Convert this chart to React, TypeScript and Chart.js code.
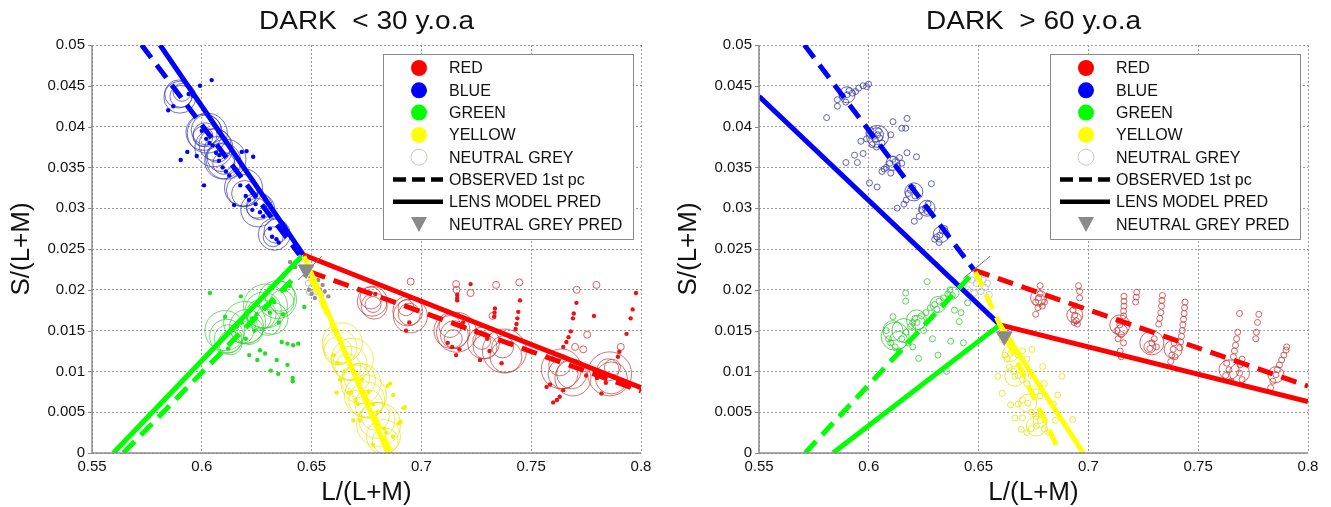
import React, { useEffect, useRef } from 'react';
import { Chart, registerables } from 'chart.js';
Chart.register(...registerables);

type P = [number, number];

const FONT = 'Liberation Sans, Arial, sans-serif';

const xTickValues = [0.55, 0.6, 0.65, 0.7, 0.75, 0.8];
const xTickLabels = ['0.55', '0.6', '0.65', '0.7', '0.75', '0.8'];
const yTickValues = [0, 0.005, 0.01, 0.015, 0.02, 0.025, 0.03, 0.035, 0.04, 0.045, 0.05];
const yTickLabels = ['0', '0.005', '0.01', '0.015', '0.02', '0.025', '0.03', '0.035', '0.04', '0.045', '0.05'];

const panelTitles = ['DARK  < 30 y.o.a', 'DARK  > 60 y.o.a'];
const xAxisTitle = 'L/(L+M)';
const yAxisTitle = 'S/(L+M)';
const legendLabels = ['RED', 'BLUE', 'GREEN', 'YELLOW', 'NEUTRAL GREY', 'OBSERVED 1st pc', 'LENS MODEL PRED', 'NEUTRAL GREY PRED'];

// ---------------- YOUNG (< 30) ----------------
const youngBlueObs: P[] = [[0.5726, 0.05], [0.6445, 0.0243]];
const youngBlueLens: P[] = [[0.581, 0.05], [0.6462, 0.0243]];
const youngRedObs: P[] = [[0.6493, 0.0222], [0.8, 0.0076]];
const youngRedLens: P[] = [[0.6462, 0.0243], [0.8, 0.008]];
const youngGreenObs: P[] = [[0.5643, 0], [0.6425, 0.0216]];
const youngGreenLens: P[] = [[0.5597, 0], [0.6455, 0.0241]];
const youngYellowObs: P[] = [[0.6495, 0.0215], [0.6862, 0]];
const youngYellowLens: P[] = [[0.6465, 0.0241], [0.6848, 0]];
const youngGreyPred: P[] = [[0.6475, 0.0225]];
const youngGreyCross: P[] = [[0.6439, 0.0212], [0.6546, 0.0241]];

const youngBlueRings: P[] = [
  [0.5895, 0.044], [0.5905, 0.0437], [0.591, 0.0442], [0.59, 0.0436],
  [0.601, 0.0393], [0.602, 0.0396], [0.6015, 0.039], [0.6025, 0.0392], [0.6005, 0.0388],
  [0.606, 0.0378], [0.607, 0.0372], [0.6055, 0.0374],
  [0.6095, 0.0358], [0.6088, 0.0362], [0.61, 0.0355], [0.611, 0.036],
  [0.6185, 0.0322], [0.6195, 0.0318], [0.619, 0.0325],
  [0.6255, 0.0298], [0.6262, 0.0302], [0.625, 0.03],
  [0.633, 0.0268], [0.6338, 0.0272], [0.6325, 0.0265],
];
const youngBlueRingSizes = [14, 11, 9, 16, 18, 15, 12, 20, 10, 16, 13, 19, 18, 14, 11, 20, 16, 13, 19, 17, 13, 10, 16, 12, 10];
const youngBlueDots: P[] = [
  [0.6045, 0.0457], [0.5992, 0.045], [0.5847, 0.042], [0.587, 0.0425], [0.5904, 0.0359], [0.5934, 0.0369],
  [0.5977, 0.0364], [0.601, 0.0328], [0.6182, 0.0369], [0.6204, 0.037], [0.6234, 0.0363], [0.6147, 0.0304],
  [0.594, 0.044], [0.596, 0.0438], [0.602, 0.0385], [0.6035, 0.038], [0.605, 0.0377], [0.608, 0.0365],
  [0.6095, 0.035], [0.611, 0.0345], [0.6125, 0.034], [0.62, 0.0315], [0.6215, 0.031], [0.623, 0.0298],
  [0.6265, 0.0295], [0.628, 0.029], [0.632, 0.0265], [0.634, 0.0262], [0.635, 0.0258], [0.6, 0.0395],
  [0.6065, 0.0368], [0.6078, 0.0358], [0.6175, 0.0328], [0.6245, 0.0305], [0.631, 0.0275],
];

const youngGreenRings: P[] = [
  [0.6113, 0.0143], [0.612, 0.014], [0.6105, 0.015], [0.613, 0.0135],
  [0.6204, 0.0155], [0.6195, 0.016], [0.6215, 0.015], [0.6185, 0.0148],
  [0.628, 0.0175], [0.627, 0.017], [0.629, 0.018], [0.626, 0.0165],
  [0.6356, 0.0192], [0.6345, 0.0188], [0.6365, 0.0185],
  [0.632, 0.0165], [0.63, 0.016],
];
const youngGreenRingSizes = [17, 14, 20, 12, 17, 21, 14, 11, 18, 15, 22, 12, 15, 19, 12, 16, 13];
const youngGreenDots: P[] = [
  [0.6037, 0.0196], [0.6178, 0.0192], [0.6106, 0.0167], [0.6265, 0.0126], [0.6288, 0.0122], [0.6253, 0.0114],
  [0.6341, 0.0114], [0.639, 0.0108], [0.6314, 0.0101], [0.6348, 0.0097], [0.6414, 0.0092], [0.6414, 0.0088],
  [0.6364, 0.0136], [0.639, 0.0134], [0.6416, 0.0132], [0.6439, 0.0134], [0.6467, 0.0179], [0.6216, 0.012],
  [0.614, 0.015], [0.616, 0.0155], [0.618, 0.016], [0.623, 0.0165], [0.625, 0.017], [0.63, 0.018],
  [0.633, 0.0185], [0.635, 0.016], [0.637, 0.017], [0.638, 0.02], [0.64, 0.0205], [0.608, 0.0135],
  [0.612, 0.0128], [0.62, 0.014], [0.624, 0.015], [0.631, 0.0172],
];

const youngYellowRings: P[] = [
  [0.6629, 0.013], [0.662, 0.0125], [0.664, 0.0135],
  [0.6675, 0.011], [0.6665, 0.0105], [0.6685, 0.0115],
  [0.6713, 0.0089], [0.6725, 0.0085], [0.6705, 0.0092],
  [0.6751, 0.0065], [0.676, 0.006], [0.6745, 0.007],
  [0.6797, 0.004], [0.6805, 0.0035], [0.679, 0.0045],
  [0.6827, 0.002], [0.6835, 0.0015],
];
const youngYellowRingSizes = [17, 14, 20, 17, 13, 21, 17, 20, 13, 18, 14, 21, 18, 22, 14, 17, 13];
const youngYellowDots: P[] = [
  [0.6614, 0.0074], [0.6667, 0.0074], [0.668, 0.0074], [0.6872, 0.0071], [0.6857, 0.0085], [0.6845, 0.0082],
  [0.6918, 0.0055], [0.6925, 0.0056], [0.669, 0.004], [0.672, 0.004], [0.6895, 0.0036], [0.6905, 0.0038],
  [0.66, 0.012], [0.662, 0.011], [0.665, 0.01], [0.67, 0.0095], [0.673, 0.009], [0.676, 0.0075],
  [0.678, 0.006], [0.68, 0.005], [0.683, 0.003], [0.684, 0.0025], [0.67, 0.0065], [0.671, 0.006],
  [0.663, 0.009], [0.687, 0.002], [0.678, 0.001],
];

const youngGreyDots: P[] = [
  [0.6402, 0.0234], [0.6425, 0.0228], [0.6508, 0.021], [0.6538, 0.02], [0.6576, 0.0192], [0.6545, 0.0193],
  [0.6488, 0.02], [0.6495, 0.0215], [0.652, 0.0205], [0.653, 0.0212], [0.656, 0.0198], [0.65, 0.0195],
  [0.647, 0.0218], [0.6515, 0.019], [0.655, 0.0206],
];
const youngGreyOpen: P[] = [[0.6485, 0.0208], [0.65, 0.0203], [0.652, 0.0198], [0.6505, 0.0212], [0.649, 0.0197]];

const youngRedRings: P[] = [
  [0.6776, 0.0186], [0.677, 0.019], [0.678, 0.0182], [0.6785, 0.018],
  [0.6938, 0.0174], [0.6945, 0.017], [0.693, 0.0178], [0.695, 0.0168],
  [0.7139, 0.015], [0.715, 0.0145], [0.713, 0.0155], [0.716, 0.0148], [0.7145, 0.014],
  [0.7283, 0.0135], [0.729, 0.013], [0.7275, 0.0138],
  [0.7378, 0.0125], [0.7385, 0.0118], [0.737, 0.013],
  [0.7637, 0.0103], [0.7645, 0.0097], [0.763, 0.0108], [0.7684, 0.0097], [0.769, 0.0092],
  [0.7857, 0.0097], [0.7865, 0.0092], [0.785, 0.0102], [0.787, 0.0105],
];
const youngRedRingSizes = [15, 11, 8, 13, 15, 11, 8, 17, 18, 14, 11, 20, 9, 16, 12, 9, 22, 16, 11, 20, 15, 11, 15, 18, 22, 16, 11, 8];
const youngRedDots: P[] = [
  [0.7163, 0.0194], [0.7163, 0.019], [0.7163, 0.0187], [0.7224, 0.0207], [0.7449, 0.0187], [0.7441, 0.0173],
  [0.7437, 0.0165], [0.7433, 0.0158], [0.7429, 0.0152], [0.7335, 0.0177], [0.7333, 0.0172], [0.7331, 0.0167],
  [0.7706, 0.0184], [0.7694, 0.0171], [0.769, 0.0165], [0.768, 0.0149], [0.767, 0.0142], [0.766, 0.0136],
  [0.7646, 0.013], [0.763, 0.0069], [0.7617, 0.0065], [0.76, 0.0062], [0.7786, 0.0168], [0.7977, 0.0196],
  [0.7962, 0.0176], [0.7953, 0.0165], [0.7934, 0.0146], [0.7901, 0.0124], [0.7895, 0.0118], [0.782, 0.0073],
  [0.757, 0.0081], [0.7586, 0.0084], [0.7158, 0.012], [0.7173, 0.0127], [0.7267, 0.0114], [0.7365, 0.011],
  [0.7646, 0.0077], [0.6775, 0.021], [0.679, 0.0195], [0.695, 0.019], [0.6945, 0.016], [0.693, 0.015],
  [0.718, 0.0155], [0.719, 0.016], [0.73, 0.014], [0.731, 0.0125], [0.725, 0.015], [0.775, 0.0095],
  [0.78, 0.0092], [0.784, 0.0086], [0.712, 0.0135], [0.714, 0.013],
];
const youngRedOpen: P[] = [
  [0.6951, 0.021], [0.7158, 0.0207], [0.7224, 0.0196], [0.734, 0.0206], [0.7446, 0.0209], [0.7707, 0.02],
  [0.7797, 0.0206], [0.7755, 0.0145], [0.7908, 0.013], [0.7737, 0.0127], [0.7324, 0.0168], [0.716, 0.02],
  [0.77, 0.013],
];

// ---------------- OLD (> 60) ----------------
const oldBlueObs: P[] = [[0.5707, 0.05], [0.648, 0.0224]];
const oldBlueLens: P[] = [[0.55, 0.0437], [0.6597, 0.0157]];
const oldRedObs: P[] = [[0.648, 0.0224], [0.8, 0.0082]];
const oldRedLens: P[] = [[0.6597, 0.0157], [0.8, 0.0063]];
const oldGreenObs: P[] = [[0.571, 0], [0.648, 0.0222]];
const oldGreenLens: P[] = [[0.5837, 0], [0.6597, 0.0157]];
const oldYellowObs: P[] = [[0.6485, 0.0222], [0.687, 0]];
const oldYellowLens: P[] = [[0.6597, 0.0157], [0.6977, 0]];
const oldGreyPred: P[] = [[0.6617, 0.0143]];
const oldGreyCross: P[] = [[0.643, 0.0214], [0.6552, 0.0241]];

const oldBluePoints: P[] = [
  [0.5901, 0.0439], [0.5857, 0.0433], [0.588, 0.0437], [0.5925, 0.0441], [0.5954, 0.0447], [0.5974, 0.045],
  [0.5999, 0.0452], [0.599, 0.0449], [0.5808, 0.0411], [0.5857, 0.0425], [0.5895, 0.043], [0.591, 0.0444],
  [0.594, 0.0443],
  [0.5964, 0.0382], [0.599, 0.0385], [0.6, 0.0392], [0.601, 0.0395], [0.6022, 0.0388], [0.603, 0.0384],
  [0.604, 0.039], [0.605, 0.0386], [0.606, 0.038], [0.61, 0.039], [0.611, 0.0406], [0.6174, 0.041],
  [0.615, 0.0398], [0.6168, 0.0398], [0.6015, 0.0378], [0.6035, 0.0375], [0.6045, 0.0395],
  [0.608, 0.035], [0.6095, 0.0355], [0.611, 0.036], [0.612, 0.0357], [0.613, 0.0352], [0.614, 0.0362],
  [0.606, 0.0345], [0.607, 0.0348], [0.6217, 0.0363], [0.6174, 0.0368], [0.615, 0.0355], [0.61, 0.0343],
  [0.5896, 0.0356], [0.5948, 0.0356], [0.5935, 0.0365], [0.5974, 0.0367], [0.6003, 0.0331], [0.6038, 0.0326],
  [0.618, 0.0318], [0.619, 0.0322], [0.62, 0.0325], [0.621, 0.0315], [0.617, 0.031], [0.6129, 0.03],
  [0.6285, 0.033], [0.616, 0.0305],
  [0.624, 0.0298], [0.6256, 0.03], [0.6265, 0.0296], [0.627, 0.0305], [0.6207, 0.0284], [0.623, 0.029],
  [0.63, 0.0262], [0.631, 0.0265], [0.6324, 0.0267], [0.6335, 0.0272], [0.6345, 0.0275], [0.632, 0.0258],
];
const oldBlueRings: P[] = [[0.5901, 0.0439], [0.604, 0.0388], [0.6035, 0.039], [0.611, 0.0355], [0.6205, 0.032], [0.6265, 0.03], [0.633, 0.0268]];
const oldBlueRingSizes = [8, 11, 7, 7, 9, 8, 8];

const oldGreenPoints: P[] = [
  [0.6266, 0.021], [0.6168, 0.0196], [0.6168, 0.0186], [0.611, 0.0167], [0.6227, 0.0116], [0.6315, 0.012],
  [0.6354, 0.01], [0.6373, 0.0137], [0.6431, 0.0135], [0.6412, 0.0161], [0.645, 0.0184], [0.639, 0.0175],
  [0.642, 0.0172], [0.608, 0.015], [0.609, 0.014], [0.61, 0.0135], [0.612, 0.013], [0.614, 0.0125],
  [0.615, 0.014], [0.617, 0.0148], [0.619, 0.0155], [0.62, 0.016], [0.621, 0.0165], [0.622, 0.016],
  [0.624, 0.0168], [0.626, 0.0172], [0.628, 0.0178], [0.63, 0.0182], [0.631, 0.0176], [0.632, 0.0186],
  [0.634, 0.019], [0.636, 0.0195], [0.637, 0.02], [0.638, 0.0193], [0.62, 0.013], [0.618, 0.0135],
  [0.625, 0.015], [0.629, 0.014],
];
const oldGreenRings: P[] = [[0.612, 0.0143], [0.611, 0.015], [0.6135, 0.0138], [0.6217, 0.0163], [0.6225, 0.016], [0.6315, 0.0182], [0.6383, 0.0196], [0.616, 0.015]];
const oldGreenRingSizes = [14, 10, 9, 10, 7, 8, 6, 12];

const oldYellowPoints: P[] = [
  [0.6607, 0.0139], [0.6646, 0.0122], [0.6665, 0.0094], [0.6724, 0.0061], [0.6763, 0.0033], [0.6587, 0.0094],
  [0.6743, 0.0127], [0.6792, 0.0106], [0.6879, 0.0094], [0.686, 0.0071], [0.6928, 0.0041], [0.6694, 0.0029],
  [0.67, 0.0043], [0.68, 0.0085], [0.6646, 0.0059], [0.6665, 0.0043], [0.6607, 0.0073], [0.662, 0.012],
  [0.663, 0.0115], [0.666, 0.0125], [0.668, 0.012], [0.67, 0.0125], [0.672, 0.0115], [0.664, 0.0105],
  [0.666, 0.01], [0.668, 0.0095], [0.67, 0.009], [0.672, 0.0085], [0.674, 0.0095], [0.676, 0.0075],
  [0.678, 0.007], [0.67, 0.0065], [0.668, 0.006], [0.674, 0.005], [0.676, 0.0045], [0.678, 0.004],
  [0.68, 0.003], [0.682, 0.0025], [0.672, 0.0025], [0.674, 0.003], [0.684, 0.006], [0.685, 0.004],
];
const oldYellowRings: P[] = [[0.6646, 0.0122], [0.6665, 0.0094], [0.6724, 0.0061], [0.6763, 0.0033], [0.678, 0.004]];
const oldYellowRingSizes = [8, 10, 9, 10, 7];

const oldGreyPoints: P[] = [
  [0.649, 0.0208], [0.645, 0.02], [0.653, 0.0203], [0.652, 0.0212], [0.6548, 0.0194], [0.648, 0.0196],
  [0.65, 0.0215], [0.651, 0.0198], [0.647, 0.0212], [0.654, 0.0208],
];

const oldRedPoints: P[] = [
  [0.6773, 0.019], [0.676, 0.0185], [0.678, 0.0195], [0.679, 0.018], [0.677, 0.0178], [0.678, 0.0205],
  [0.676, 0.017], [0.68, 0.0185],
  [0.6938, 0.0169], [0.693, 0.0175], [0.6945, 0.0162], [0.695, 0.0158], [0.694, 0.018], [0.696, 0.019],
  [0.696, 0.0198], [0.6955, 0.0205], [0.6935, 0.016],
  [0.7162, 0.0192], [0.7162, 0.0186], [0.7162, 0.018], [0.716, 0.0174], [0.716, 0.0168],
  [0.722, 0.0197], [0.7218, 0.0191], [0.7215, 0.0185],
  [0.7143, 0.0157], [0.713, 0.015], [0.715, 0.0145], [0.7135, 0.014], [0.716, 0.0135], [0.7145, 0.0125],
  [0.715, 0.0118], [0.714, 0.0162],
  [0.7337, 0.0193], [0.7335, 0.0187], [0.7333, 0.018], [0.733, 0.0172], [0.7325, 0.0165], [0.732, 0.0158],
  [0.7289, 0.0135], [0.728, 0.0128], [0.73, 0.014], [0.731, 0.013],
  [0.7386, 0.0127], [0.738, 0.012], [0.7375, 0.0112], [0.739, 0.0135], [0.7395, 0.0118],
  [0.744, 0.0185], [0.7438, 0.0178], [0.7436, 0.0171], [0.7433, 0.0164], [0.743, 0.0157], [0.7427, 0.015],
  [0.7424, 0.0143], [0.742, 0.0136], [0.7416, 0.0129],
  [0.764, 0.0102], [0.7625, 0.0095], [0.763, 0.011], [0.765, 0.0088], [0.766, 0.0118], [0.7665, 0.0125],
  [0.767, 0.0132], [0.7675, 0.014], [0.768, 0.0148], [0.7688, 0.0098], [0.77, 0.009], [0.769, 0.0108],
  [0.77, 0.0115], [0.7688, 0.0171],
  [0.7776, 0.017], [0.777, 0.016], [0.7765, 0.0148], [0.7762, 0.014],
  [0.7854, 0.0096], [0.784, 0.0088], [0.783, 0.008], [0.786, 0.0102], [0.787, 0.0108], [0.788, 0.0114],
  [0.789, 0.012], [0.79, 0.0126], [0.7903, 0.013],
];
const oldRedRings: P[] = [
  [0.6773, 0.019], [0.678, 0.0188], [0.6938, 0.0169], [0.6945, 0.0165], [0.7143, 0.0157], [0.715, 0.015],
  [0.7289, 0.0135], [0.728, 0.013], [0.7386, 0.0127], [0.764, 0.0102], [0.7688, 0.0098], [0.7854, 0.0096],
];
const oldRedRingSizes = [8, 5, 8, 5, 10, 6, 12, 6, 9, 10, 10, 8];

// ---------------- helpers ----------------
const RED = '#ff0000', BLUE = '#0000ff', GREEN = '#00ff00', YELLOW = '#ffff00';

const pts = (a: P[]) => a.map(([x, y]) => ({ x, y }));

function lineDs(d: P[], color: string, dashed: boolean, width = 5) {
  return {
    data: pts(d), showLine: true, borderColor: color, borderWidth: width,
    borderDash: dashed ? [16, 9] : [], pointRadius: 0, fill: false, tension: 0, order: 1,
  };
}
function dotDs(d: P[], color: string, r: number) {
  return {
    data: pts(d), showLine: false, pointRadius: r, pointBackgroundColor: color,
    pointBorderColor: color, pointBorderWidth: 0, order: 3,
  };
}
function openDs(d: P[], color: string, r: number | number[], lw = 0.8) {
  return {
    data: pts(d), showLine: false, pointRadius: r, pointBackgroundColor: 'rgba(0,0,0,0)',
    pointBorderColor: color, pointBorderWidth: lw, order: 4,
  };
}
function triDs(d: P[]) {
  return {
    data: pts(d), showLine: false, pointStyle: 'triangle', pointRotation: 180, pointRadius: 9,
    pointBackgroundColor: '#8a8a8a', pointBorderColor: '#8a8a8a', pointBorderWidth: 1, order: 0,
  };
}

const youngDatasets = [
  triDs(youngGreyPred),
  lineDs(youngGreyCross, '#777777', false, 1),
  lineDs(youngYellowLens, YELLOW, false), lineDs(youngYellowObs, YELLOW, true),
  lineDs(youngRedLens, RED, false), lineDs(youngRedObs, RED, true),
  lineDs(youngGreenLens, GREEN, false), lineDs(youngGreenObs, GREEN, true),
  lineDs(youngBlueLens, BLUE, false), lineDs(youngBlueObs, BLUE, true),
  dotDs(youngBlueDots, BLUE, 2.2), dotDs(youngGreenDots, '#22dd22', 2.2), dotDs(youngYellowDots, '#f2f200', 2.2),
  dotDs(youngRedDots, '#ee1111', 2.2), dotDs(youngGreyDots, '#909090', 2.2),
  openDs(youngGreyOpen, '#b0b0b0', 3), openDs(youngRedOpen, '#dd3333', 3.5),
  openDs(youngBlueRings, '#3333b0', youngBlueRingSizes, 0.7),
  openDs(youngGreenRings, '#33cc33', youngGreenRingSizes, 0.7),
  openDs(youngYellowRings, '#e8e800', youngYellowRingSizes, 0.7),
  openDs(youngRedRings, '#c03a3a', youngRedRingSizes, 0.7),
];

const oldDatasets = [
  triDs(oldGreyPred),
  lineDs(oldGreyCross, '#777777', false, 1),
  lineDs(oldYellowLens, YELLOW, false), lineDs(oldYellowObs, YELLOW, true),
  lineDs(oldRedLens, RED, false), lineDs(oldRedObs, RED, true),
  lineDs(oldGreenLens, GREEN, false), lineDs(oldGreenObs, GREEN, true),
  lineDs(oldBlueLens, BLUE, false), lineDs(oldBlueObs, BLUE, true),
  openDs(oldBluePoints, '#3a3aa8', 3), openDs(oldGreenPoints, '#33cc33', 3),
  openDs(oldYellowPoints, '#e6e600', 3), openDs(oldRedPoints, '#cc3b3b', 3), openDs(oldGreyPoints, '#bdbdbd', 3.2),
  openDs(oldBlueRings, '#3a3aa8', oldBlueRingSizes, 0.8),
  openDs(oldGreenRings, '#33cc33', oldGreenRingSizes, 0.8),
  openDs(oldYellowRings, '#e6e600', oldYellowRingSizes, 0.8),
  openDs(oldRedRings, '#cc3b3b', oldRedRingSizes, 0.8),
];

function makeOverlay(title: string) {
  return {
    id: 'overlay',
    afterDraw(chart: any) {
      const { ctx, chartArea: a } = chart;
      ctx.save();
      // axes (solid left & bottom)
      ctx.strokeStyle = '#8c8c8c';
      ctx.lineWidth = 1.5;
      ctx.setLineDash([]);
      ctx.beginPath();
      ctx.moveTo(a.left, a.top);
      ctx.lineTo(a.left, a.bottom);
      ctx.lineTo(a.right, a.bottom);
      ctx.stroke();
      const ys = chart.scales.y;
      ctx.lineWidth = 1;
      ctx.beginPath();
      for (const v of yTickValues) {
        const py = Math.round(ys.getPixelForValue(v)) + 0.5;
        ctx.moveTo(a.left - 4, py);
        ctx.lineTo(a.left, py);
      }
      ctx.stroke();

      // title & axis titles
      ctx.fillStyle = '#111';
      ctx.textAlign = 'center';
      ctx.textBaseline = 'middle';
      ctx.save();
      ctx.translate((a.left + a.right) / 2, 22);
      ctx.scale(1.12, 1);
      ctx.font = `25px ${FONT}`;
      ctx.fillText(title, 0, 0);
      ctx.restore();
      ctx.font = `26px ${FONT}`;
      ctx.fillText(xAxisTitle, (a.left + a.right) / 2, 493);
      ctx.save();
      ctx.translate(a.left - 70, (a.top + a.bottom) / 2);
      ctx.rotate(-Math.PI / 2);
      ctx.fillText(yAxisTitle, 0, 0);
      ctx.restore();

      // legend
      const L = a.right - 258, T = a.top + 9, W = 250, H = 185;
      ctx.fillStyle = '#ffffff';
      ctx.fillRect(L, T, W, H);
      ctx.strokeStyle = '#8a8a8a';
      ctx.lineWidth = 1;
      ctx.strokeRect(L + 0.5, T + 0.5, W, H);
      const markerColors = [RED, BLUE, GREEN, YELLOW];
      for (let i = 0; i < legendLabels.length; i++) {
        const y = T + 14 + i * 22.3;
        const mx = L + 36;
        if (i < 4) {
          ctx.fillStyle = markerColors[i];
          ctx.beginPath();
          ctx.arc(mx, y, 8, 0, Math.PI * 2);
          ctx.fill();
        } else if (i === 4) {
          ctx.strokeStyle = '#c8c8c8';
          ctx.lineWidth = 1;
          ctx.beginPath();
          ctx.arc(mx, y, 8, 0, Math.PI * 2);
          ctx.stroke();
        } else if (i === 5 || i === 6) {
          ctx.strokeStyle = '#000';
          ctx.lineWidth = 4.5;
          ctx.setLineDash(i === 5 ? [13, 6] : []);
          ctx.beginPath();
          ctx.moveTo(L + 10, y);
          ctx.lineTo(L + 60, y);
          ctx.stroke();
          ctx.setLineDash([]);
        } else {
          ctx.fillStyle = '#8a8a8a';
          ctx.beginPath();
          ctx.moveTo(mx - 8, y - 7);
          ctx.lineTo(mx + 8, y - 7);
          ctx.lineTo(mx, y + 8);
          ctx.closePath();
          ctx.fill();
        }
        ctx.fillStyle = '#111';
        ctx.textAlign = 'left';
        ctx.textBaseline = 'middle';
        ctx.font = `16px ${FONT}`;
        ctx.fillText(legendLabels[i], L + 66, y + 1);
      }
      ctx.restore();
    },
  };
}

function Panel({ idx, left, width, yAxisWidth }: { idx: number; left: number; width: number; yAxisWidth: number }) {
  const ref = useRef<HTMLCanvasElement>(null);
  useEffect(() => {
    const canvas = ref.current!;
    const rightPad = width - (yAxisWidth + 549);
    const chart = new Chart(canvas, {
      type: 'scatter',
      data: { datasets: (idx === 0 ? youngDatasets : oldDatasets) as any },
      options: {
        animation: false,
        responsive: false,
        maintainAspectRatio: false,
        events: [],
        layout: { padding: { top: 45, right: rightPad, left: 0, bottom: 0 } },
        plugins: { legend: { display: false }, tooltip: { enabled: false }, title: { display: false } },
        scales: {
          x: {
            type: 'linear', min: 0.55, max: 0.8,
            afterBuildTicks: (s: any) => { s.ticks = xTickValues.map((v) => ({ value: v })); },
            afterFit: (s: any) => { s.height = 54; },
            ticks: {
              autoSkip: false, maxRotation: 0, padding: 5, color: '#111',
              font: { family: FONT, size: 15 },
              callback: (_v: any, i: number) => xTickLabels[i],
            },
            grid: { color: '#9a9a9a', lineWidth: 1, drawTicks: false },
            border: { display: false, dash: [2, 2] },
          },
          y: {
            type: 'linear', min: 0, max: 0.05,
            afterBuildTicks: (s: any) => { s.ticks = yTickValues.map((v) => ({ value: v })); },
            afterFit: (s: any) => { s.width = yAxisWidth; },
            ticks: {
              autoSkip: false, padding: 7, color: '#111',
              font: { family: FONT, size: 15 },
              callback: (_v: any, i: number) => yTickLabels[i],
            },
            grid: { color: '#9a9a9a', lineWidth: 1, drawTicks: false },
            border: { display: false, dash: [2, 2] },
          },
        },
      },
      plugins: [makeOverlay(panelTitles[idx])],
    });
    return () => chart.destroy();
  }, []);
  return (
    <canvas
      ref={ref}
      width={width}
      height={507}
      style={{ position: 'absolute', left, top: 0, width, height: 507 }}
    />
  );
}

export default function App() {
  return (
    <div style={{ position: 'fixed', left: 0, top: 0, width: 1331, height: 507, background: '#fff', overflow: 'hidden' }}>
      <Panel idx={0} left={0} width={665} yAxisWidth={92} />
      <Panel idx={1} left={665} width={666} yAxisWidth={94} />
    </div>
  );
}
